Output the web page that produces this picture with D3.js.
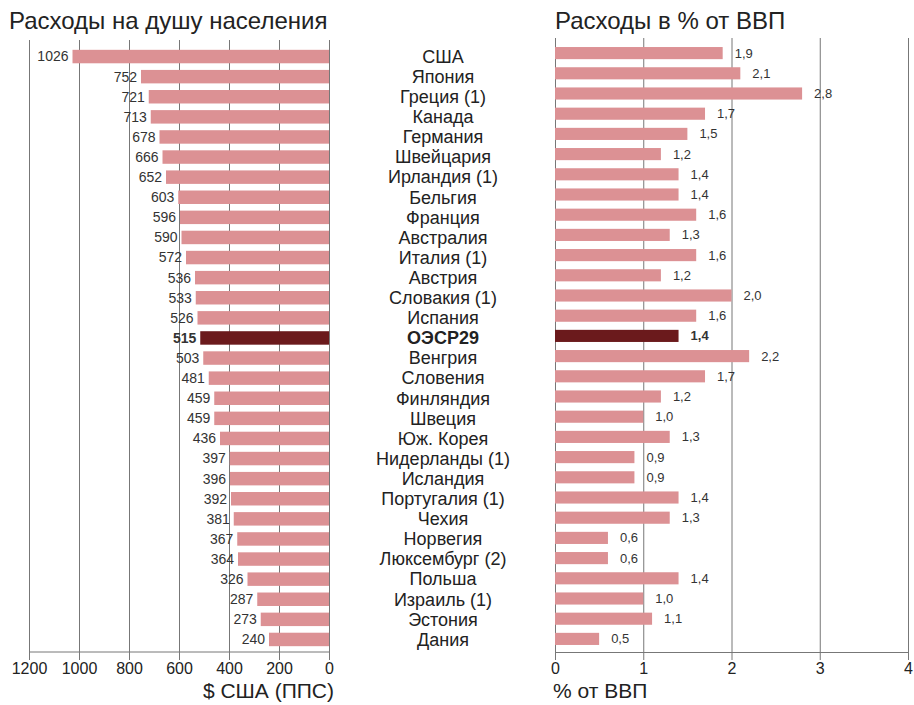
<!DOCTYPE html>
<html>
<head>
<meta charset="utf-8">
<script src="https://cdnjs.cloudflare.com/ajax/libs/d3/7.8.5/d3.min.js"></script>
<style>
  body { margin: 0; background: #fff; }
  svg { font-family: "Liberation Sans", Arial, Helvetica, sans-serif; }
  .domain { stroke: #777; }
  .tick line { stroke: #777; }
</style>
</head>
<body>
<svg id="chart" width="914" height="705"></svg>
<script>
var countries = ['США', 'Япония', 'Греция (1)', 'Канада', 'Германия', 'Швейцария', 'Ирландия (1)', 'Бельгия',
  'Франция', 'Австралия', 'Италия (1)', 'Австрия', 'Словакия (1)', 'Испания', 'ОЭСР29', 'Венгрия',
  'Словения', 'Финляндия', 'Швеция', 'Юж. Корея', 'Нидерланды (1)', 'Исландия', 'Португалия (1)',
  'Чехия', 'Норвегия', 'Люксембург (2)', 'Польша', 'Израиль (1)', 'Эстония', 'Дания'];

// расходы на душу населения, $ США (ППС)
var perCapita = [1026, 752, 721, 713, 678, 666, 652, 603, 596, 590, 572, 536, 533, 526, 515, 503,
  481, 459, 459, 436, 397, 396, 392, 381, 367, 364, 326, 287, 273, 240];

// расходы в % от ВВП
var pctGdp = [1.9, 2.1, 2.8, 1.7, 1.5, 1.2, 1.4, 1.4, 1.6, 1.3, 1.6, 1.2, 2.0, 1.6, 1.4, 2.2,
  1.7, 1.2, 1.0, 1.3, 0.9, 0.9, 1.4, 1.3, 0.6, 0.6, 1.4, 1.0, 1.1, 0.5];

var leftTicks = [1200, 1000, 800, 600, 400, 200, 0];
var rightTicks = [0, 1, 2, 3, 4];
var highlight = 'ОЭСР29';

var barColor = '#dc9194';
var darkColor = '#6b1a1c';

var svg = d3.select('#chart');
var ru = d3.formatLocale({decimal: ',', thousands: ' ', grouping: [3], currency: ['', '']});
var fmt1 = ru.format('.1f');

var axisY = 652;

/*----------  левая панель  ----------*/
var xL = d3.scaleLinear().domain([0, 1200]).range([329, 29]);
var yL = d3.scaleBand().domain(countries).range([46.5, 649.5]).paddingInner(0.33).paddingOuter(0.165);

svg.append('g')
  .attr('transform', 'translate(0,' + axisY + ')')
  .call(d3.axisBottom(xL).tickValues(leftTicks).tickSize(-612).tickFormat(''))
  .call(g => g.select('.domain').remove());

var rowsL = countries.map((c, i) => ({c: c, v: perCapita[i]}));

svg.append('g').selectAll('rect')
  .data(rowsL).enter().append('rect')
  .attr('x', d => xL(d.v))
  .attr('y', d => yL(d.c))
  .attr('width', d => xL(0) - xL(d.v))
  .attr('height', yL.bandwidth())
  .attr('fill', d => d.c === highlight ? darkColor : barColor);

svg.append('g').selectAll('text')
  .data(rowsL).enter().append('text')
  .attr('x', d => xL(d.v) - 4)
  .attr('y', d => yL(d.c) + yL.bandwidth() / 2)
  .attr('dy', '0.35em')
  .attr('text-anchor', 'end')
  .attr('font-size', 14)
  .attr('font-weight', d => d.c === highlight ? 'bold' : 'normal')
  .attr('fill', '#333')
  .text(d => d.v);

var axL = svg.append('g')
  .attr('transform', 'translate(0,' + axisY + ')')
  .call(d3.axisBottom(xL).tickValues(leftTicks).tickSize(8).tickPadding(3).tickFormat(d3.format('d')));
axL.selectAll('text').attr('font-size', 16).attr('fill', '#222');
axL.select('.domain').attr('d', 'M' + xL(1200) + ',0H' + xL(0));

svg.append('text')
  .attr('x', 9).attr('y', 29)
  .attr('font-size', 24).attr('fill', '#222')
  .text('Расходы на душу населения');

svg.append('text')
  .attr('x', 334).attr('y', 698)
  .attr('text-anchor', 'end')
  .attr('font-size', 21).attr('fill', '#222')
  .text('$ США (ППС)');

/*----------  названия стран  ----------*/
svg.append('g').selectAll('text')
  .data(countries).enter().append('text')
  .attr('x', 443)
  .attr('y', d => yL(d) + yL.bandwidth() / 2)
  .attr('dy', '0.35em')
  .attr('text-anchor', 'middle')
  .attr('font-size', 18)
  .attr('font-weight', d => d === highlight ? 'bold' : 'normal')
  .attr('fill', '#222')
  .text(d => d);

/*----------  правая панель  ----------*/
var xR = d3.scaleLinear().domain([0, 4]).range([555, 908]);
var yR = d3.scaleBand().domain(countries).range([43, 649]).paddingInner(0.4).paddingOuter(0.2);

svg.append('g')
  .attr('transform', 'translate(0,' + axisY + ')')
  .call(d3.axisBottom(xR).tickValues(rightTicks).tickSize(-614).tickFormat(''))
  .call(g => g.select('.domain').remove());

var rowsR = countries.map((c, i) => ({c: c, v: pctGdp[i]}));

svg.append('g').selectAll('rect')
  .data(rowsR).enter().append('rect')
  .attr('x', xR(0))
  .attr('y', d => yR(d.c))
  .attr('width', d => xR(d.v) - xR(0))
  .attr('height', yR.bandwidth())
  .attr('fill', d => d.c === highlight ? darkColor : barColor);

svg.append('g').selectAll('text')
  .data(rowsR).enter().append('text')
  .attr('x', d => xR(d.v) + 12)
  .attr('y', d => yR(d.c) + yR.bandwidth() / 2)
  .attr('dy', '0.35em')
  .attr('font-size', 13)
  .attr('font-weight', d => d.c === highlight ? 'bold' : 'normal')
  .attr('fill', '#333')
  .text(d => fmt1(d.v));

var axR = svg.append('g')
  .attr('transform', 'translate(0,' + axisY + ')')
  .call(d3.axisBottom(xR).tickValues(rightTicks).tickSize(8).tickPadding(3).tickFormat(d3.format('d')));
axR.selectAll('text').attr('font-size', 16).attr('fill', '#222');

svg.append('text')
  .attr('x', 555).attr('y', 29)
  .attr('font-size', 24).attr('fill', '#222')
  .text('Расходы в % от ВВП');

svg.append('text')
  .attr('x', 553).attr('y', 698)
  .attr('font-size', 21).attr('fill', '#222')
  .text('% от ВВП');
</script>
</body>
</html>
